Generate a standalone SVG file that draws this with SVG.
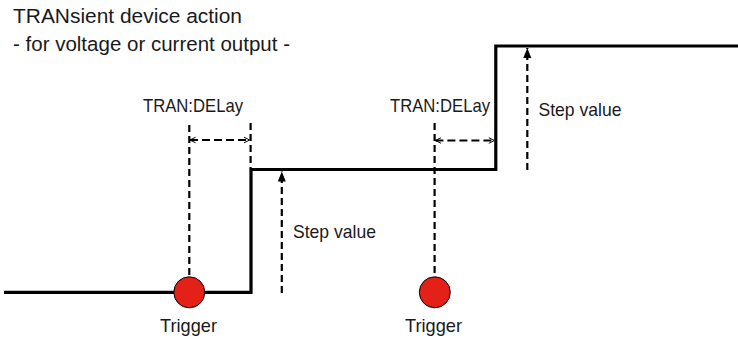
<svg xmlns="http://www.w3.org/2000/svg" width="738" height="339" viewBox="0 0 738 339">
<style>
text{font-family:"Liberation Sans",Arial,sans-serif;fill:#1a1a1a}
.t{font-size:20.5px}
.l{font-size:19px}
.wave{fill:none;stroke:#000;stroke-width:3.2;stroke-linejoin:miter}
.dash{fill:none;stroke:#000;stroke-width:2.2;stroke-dasharray:7 4}
.hd{fill:none;stroke:#000;stroke-width:2.2;stroke-dasharray:8 4}
.trig{fill:#e32119;stroke:#000;stroke-width:1}
</style>
<defs>
<marker id="fa" viewBox="0 0 10 10" refX="10" refY="5" markerWidth="10" markerHeight="10" markerUnits="userSpaceOnUse" orient="auto">
<path d="M0,1 L10,5 L0,9 Z" fill="#000"/>
</marker>
<marker id="oa" viewBox="0 0 10 10" refX="9" refY="5" markerWidth="7" markerHeight="9" markerUnits="userSpaceOnUse" orient="auto-start-reverse">
<path d="M1,1 L9,5 L1,9" fill="none" stroke="#000" stroke-width="1.4"/>
</marker>
</defs>
<g id="title">
<text class="t" x="13" y="23" textLength="229" lengthAdjust="spacingAndGlyphs">TRANsient device action</text>
<text class="t" x="13" y="51" textLength="277" lengthAdjust="spacingAndGlyphs">- for voltage or current output -</text>
</g>
<g id="connectors">
<path class="wave" d="M4,292.3 H251 V169.5 H495.8 V46 H738"/>
<line class="dash" x1="189.3" y1="125" x2="189.3" y2="277"/>
<line class="dash" x1="250.6" y1="123" x2="250.6" y2="168"/>
<line class="hd" x1="190" y1="140" x2="249.6" y2="140" marker-start="url(#oa)" marker-end="url(#oa)"/>
<line class="dash" x1="434.6" y1="123" x2="434.6" y2="277"/>
<line class="hd" x1="435.4" y1="140.5" x2="494.4" y2="140.5" marker-start="url(#oa)" marker-end="url(#oa)"/>
<line class="dash" x1="281.8" y1="293" x2="281.8" y2="171.5" marker-end="url(#fa)"/>
<line class="dash" x1="527.3" y1="170" x2="527.3" y2="48" marker-end="url(#fa)"/>
</g>
<g id="trigger1">
<circle class="trig" cx="189.3" cy="292.3" r="15.5"/>
<text class="l" x="160" y="332" textLength="57" lengthAdjust="spacingAndGlyphs">Trigger</text>
</g>
<g id="trigger2">
<circle class="trig" cx="434.8" cy="292.3" r="15.5"/>
<text class="l" x="405" y="332" textLength="57" lengthAdjust="spacingAndGlyphs">Trigger</text>
</g>
<g id="delay1">
<text class="l" x="143" y="112" textLength="100" lengthAdjust="spacingAndGlyphs">TRAN:DELay</text>
</g>
<g id="delay2">
<text class="l" x="390" y="112" textLength="100" lengthAdjust="spacingAndGlyphs">TRAN:DELay</text>
</g>
<g id="step1">
<text class="l" x="293" y="237.5" textLength="83" lengthAdjust="spacingAndGlyphs">Step value</text>
</g>
<g id="step2">
<text class="l" x="538.5" y="115.5" textLength="83" lengthAdjust="spacingAndGlyphs">Step value</text>
</g>
</svg>
